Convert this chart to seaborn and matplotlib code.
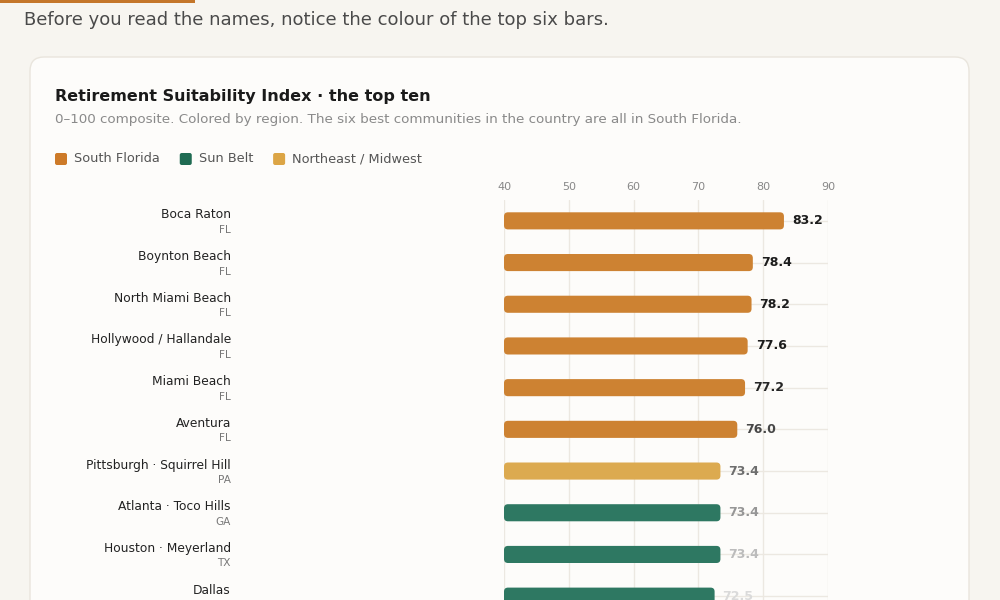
import pandas as pd
import seaborn as sns
import matplotlib.pyplot as plt
from matplotlib.patches import FancyBboxPatch, Rectangle
from matplotlib.transforms import IdentityTransform

# data
names = ['Boca Raton', 'Boynton Beach', 'North Miami Beach', 'Hollywood / Hallandale',
         'Miami Beach', 'Aventura', 'Pittsburgh · Squirrel Hill', 'Atlanta · Toco Hills',
         'Houston · Meyerland', 'Dallas']
states = ['FL', 'FL', 'FL', 'FL', 'FL', 'FL', 'PA', 'GA', 'TX', 'TX']
scores = [83.2, 78.4, 78.2, 77.6, 77.2, 76.0, 73.4, 73.4, 73.4, 72.5]
regions = ['South Florida'] * 6 + ['Northeast / Midwest', 'Sun Belt', 'Sun Belt', 'Sun Belt']

region_order = ['South Florida', 'Sun Belt', 'Northeast / Midwest']
region_colors = {'South Florida': '#cd8232', 'Sun Belt': '#2e7862', 'Northeast / Midwest': '#dcaa50'}
swatch_colors = {'South Florida': '#cd7a28', 'Sun Belt': '#1f6b52', 'Northeast / Midwest': '#dca545'}
# value labels fade down the list in the reference
label_colors = ['#1c1c1c', '#1c1c1c', '#1c1c1c', '#1c1c1c', '#262626',
                '#474747', '#6e6e6e', '#969696', '#bcbcbc', '#dadada']

df = pd.DataFrame({'name': names, 'state': states, 'score': scores, 'region': regions})

sns.set_style('white')
plt.rcParams['font.family'] = ['DejaVu Sans']

fig = plt.figure(figsize=(10, 6), dpi=100)
fig.patch.set_facecolor('#f7f5f0')

# page decorations (pixel coordinates, origin bottom-left), kept behind the axes
px = IdentityTransform()
fig.add_artist(Rectangle((0, 597), 195, 3, transform=px, color='#c4762a', lw=0, zorder=-10))
fig.add_artist(FancyBboxPatch((30, -60), 939, 603, boxstyle='round,pad=0,rounding_size=14',
                              transform=px, facecolor='#fdfcfa', edgecolor='#e9e5dd', lw=1,
                              zorder=-10))

fig.text(0.024, 1 - 20 / 600, 'Before you read the names, notice the colour of the top six bars.',
         fontsize=13, color='#4a4a4a', va='center')
fig.text(0.055, 1 - 96 / 600, 'Retirement Suitability Index · the top ten',
         fontsize=11.5, fontweight='bold', color='#1a1a1a', va='center')
fig.text(0.055, 1 - 120 / 600,
         '0–100 composite. Colored by region. The six best communities in the country are all in South Florida.',
         fontsize=9.7, color='#8a8a8a', va='center')

# legend
x = 55
fig.canvas.draw()
renderer = fig.canvas.get_renderer()
for reg in region_order:
    fig.add_artist(FancyBboxPatch((x, 600 - 165), 12, 12, boxstyle='round,pad=0,rounding_size=2',
                                  transform=px, color=swatch_colors[reg], lw=0))
    t = fig.text((x + 19) / 1000, 1 - 159 / 600, reg, fontsize=9.3, color='#555555', va='center')
    x = t.get_window_extent(renderer).x1 + 20

ax = fig.add_axes([0.504, 1 - 617 / 600, 0.324, 417 / 600])
ax.set_facecolor('none')
sns.barplot(data=df, x='score', y='name', hue='region', palette=region_colors, saturation=1,
            dodge=False, width=0.41, orient='h', legend=False, ax=ax)

ax.set_xlim(40, 90)
ax.set_ylim(9.5, -0.5)

# swap plain bars for rounded ones
x_px = 324 / 50
y_px = 41.7
r = 4.0
for p in list(ax.patches):
    w = p.get_width()
    if not w or w != w:
        continue
    y0, h, col = p.get_y(), p.get_height(), p.get_facecolor()
    p.remove()
    ax.add_patch(FancyBboxPatch((40, y0), w - 40, h,
                                boxstyle=f'round,pad=0,rounding_size={r / x_px}',
                                mutation_aspect=(r / y_px) / (r / x_px),
                                facecolor=col, lw=0, zorder=2))

for i, (v, c) in enumerate(zip(scores, label_colors)):
    ax.annotate(f'{v:.1f}', xy=(v, i), xytext=(8, 0), textcoords='offset pixels',
                ha='left', va='center', fontsize=9, fontweight='bold', color=c)
    ax.annotate(names[i], xy=(40, i), xytext=(-273, 6), textcoords='offset pixels',
                ha='right', va='center', fontsize=8.8, color='#222222', annotation_clip=False)
    ax.annotate(states[i], xy=(40, i), xytext=(-273, -9), textcoords='offset pixels',
                ha='right', va='center', fontsize=7.6, color='#777777', annotation_clip=False)

ax.set_xticks([40, 50, 60, 70, 80, 90])
ax.xaxis.tick_top()
ax.tick_params(axis='x', length=0, pad=5.5, labelsize=8, labelcolor='#888888')
ax.tick_params(axis='y', length=0, labelleft=False)
ax.set_xlabel('')
ax.set_ylabel('')
ax.grid(True, color='#ece8e1', lw=1)
ax.set_axisbelow(True)
sns.despine(ax=ax, left=True, bottom=True)

fig.savefig('out.png', dpi=100, facecolor=fig.get_facecolor())
